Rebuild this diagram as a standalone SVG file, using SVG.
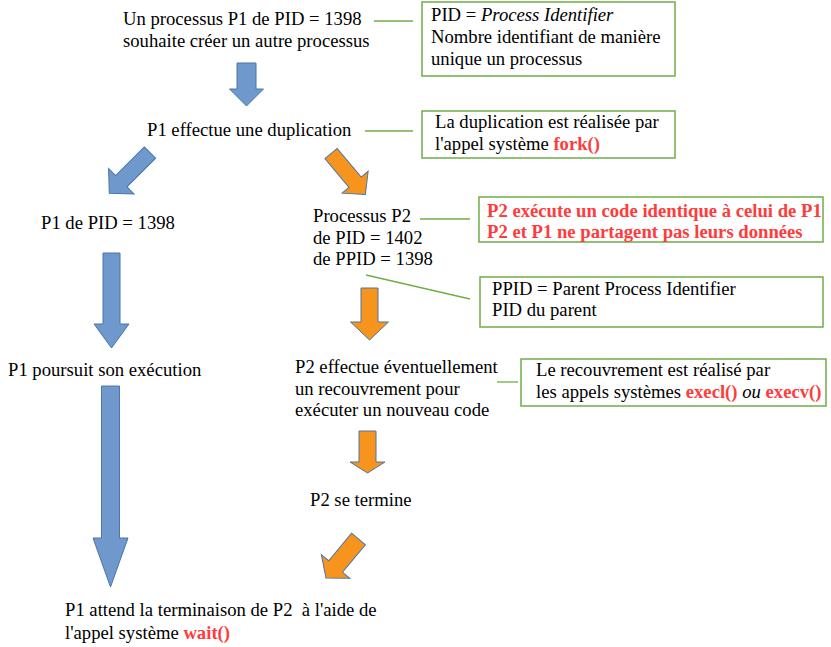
<svg xmlns="http://www.w3.org/2000/svg" width="831" height="647" viewBox="0 0 831 647">
<style>
.t{font-family:"Liberation Serif","Times New Roman",serif;font-size:18.67px;fill:#000;white-space:pre}
.r{fill:#ff3b3b;font-weight:bold}
.i{font-style:italic}
.box{fill:#fff;stroke:#70ad47;stroke-width:1.5}
.ln{stroke:#70ad47;stroke-width:1.3;fill:none}
.ba{fill:#6f98cc;stroke:#4a76a8;stroke-width:1}
.oa{fill:#f7941d;stroke:#4a76a8;stroke-width:1}
</style>
<rect width="831" height="647" fill="#fff"/>
<g id="connectors">
<line class="ln" x1="374" y1="21" x2="413" y2="21"/>
<line class="ln" x1="365" y1="131" x2="413" y2="131"/>
<line class="ln" x1="420" y1="219" x2="470" y2="219"/>
<line class="ln" x1="366" y1="275" x2="470" y2="299"/>
<line class="ln" x1="497" y1="382" x2="518" y2="382"/>
<polygon class="ba" transform="translate(246.5,63)" points="-9.5,0 9.5,0 9.5,26 17,26 0,43 -17,26 -9.5,26"/>
<polygon class="ba" transform="translate(150,152.5) rotate(45)" points="-8,0 8,0 8,40.6 18,40.6 0,57.6 -18,40.6 -8,40.6"/>
<polygon class="oa" transform="translate(331,153.5) rotate(-40)" points="-8,0 8,0 8,37.5 17,37.5 0,53.5 -17,37.5 -8,37.5"/>
<polygon class="ba" transform="translate(111.5,253)" points="-8.5,0 8.5,0 8.5,71 17.5,71 0,95 -17.5,71 -8.5,71"/>
<polygon class="ba" transform="translate(110.5,386)" points="-9,0 9,0 9,152 17.5,152 0,201 -17.5,152 -9,152"/>
<polygon class="oa" transform="translate(369.5,288)" points="-8.5,0 8.5,0 8.5,34 19,34 0,52 -19,34 -8.5,34"/>
<polygon class="oa" transform="translate(367.5,431)" points="-8.5,0 8.5,0 8.5,31 17.5,31 0,42 -17.5,31 -8.5,31"/>
<polygon class="oa" transform="translate(358.5,539) rotate(39.8)" points="-9,0 9,0 9,35.8 18.5,35.8 0,50.8 -18.5,35.8 -9,35.8"/>
</g>
<g id="n1"><text class="t" x="123" y="25">Un processus P1 de PID = 1398</text><text class="t" x="123" y="47">souhaite créer un autre processus</text></g>
<g id="note-pid"><rect class="box" x="422" y="2" width="253" height="74"/><text class="t" x="431" y="21">PID = <tspan class="i">Process Identifier</tspan></text><text class="t" x="431" y="43">Nombre identifiant de manière</text><text class="t" x="431" y="65">unique un processus</text></g>
<g id="n2"><text class="t" x="147" y="136">P1 effectue une duplication</text></g>
<g id="note-fork"><rect class="box" x="422" y="111" width="253" height="47"/><text class="t" x="435" y="128">La duplication est réalisée par</text><text class="t" x="435" y="150">l'appel système <tspan class="r">fork()</tspan></text></g>
<g id="n3"><text class="t" x="41" y="229">P1 de PID = 1398</text></g>
<g id="n4"><text class="t" x="313" y="222">Processus P2</text><text class="t" x="313" y="244">de PID = 1402</text><text class="t" x="313" y="265">de PPID = 1398</text></g>
<g id="note-code"><rect class="box" x="479" y="197" width="344" height="45"/><text class="t r" x="487" y="217">P2 exécute un code identique à celui de P1</text><text class="t r" x="487" y="238">P2 et P1 ne partagent pas leurs données</text></g>
<g id="note-ppid"><rect class="box" x="480" y="277" width="343" height="50"/><text class="t" x="492" y="295">PPID = Parent Process Identifier</text><text class="t" x="492" y="316">PID du parent</text></g>
<g id="n5"><text class="t" x="8" y="376">P1 poursuit son exécution</text></g>
<g id="n6"><text class="t" x="295" y="373">P2 effectue éventuellement</text><text class="t" x="295" y="395">un recouvrement pour</text><text class="t" x="295" y="416">exécuter un nouveau code</text></g>
<g id="note-exec"><rect class="box" x="521" y="359" width="305" height="47"/><text class="t" x="536" y="376">Le recouvrement est réalisé par</text><text class="t" x="536" y="398">les appels systèmes <tspan class="r">execl()</tspan> <tspan class="i">ou</tspan> <tspan class="r">execv()</tspan></text></g>
<g id="n7"><text class="t" x="310" y="506">P2 se termine</text></g>
<g id="n8"><text class="t" x="65" y="616">P1 attend la terminaison de P2  à l'aide de</text><text class="t" x="65" y="639">l'appel système <tspan class="r">wait()</tspan></text></g>
</svg>
